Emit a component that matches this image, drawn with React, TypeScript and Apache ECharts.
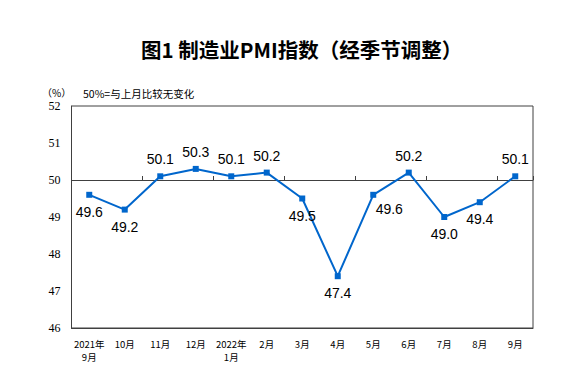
import React, { useEffect, useRef } from "react";
import * as echarts from "echarts";

const categories = [
  "2021年\n9月", "10月", "11月", "12月", "2022年\n1月", "2月", "3月",
  "4月", "5月", "6月", "7月", "8月", "9月",
];
const pmiValues = [49.6, 49.2, 50.1, 50.3, 50.1, 50.2, 49.5, 47.4, 49.6, 50.2, 49.0, 49.4, 50.1];
const yTicks = [46, 47, 48, 49, 50, 51, 52];
const baseline = 50;

const labelSide = ["bottom", "bottom", "top", "top", "top", "top", "bottom", "bottom", "bottomRight", "top", "bottom", "bottom", "top"];

export default function App() {
  const ref = useRef<HTMLDivElement>(null);
  useEffect(() => {
    if (!ref.current) return;
    document.body.style.margin = "0";
    const chart = echarts.init(ref.current, undefined, { renderer: "svg" });
    const yMin = yTicks[0];
    const yMax = yTicks[yTicks.length - 1];
    const gridTop = 106;
    const gridBottom = 48;
    const gridHeight = 376 - gridTop - gridBottom;
    const baseOffset = -gridHeight * (baseline - yMin) / (yMax - yMin);

    const data = pmiValues.map((v, i) => {
      const side = labelSide[i];
      const label: any =
        side === "bottomRight"
          ? { position: "bottom", offset: [16, -3] }
          : { position: side };
      return { value: v, label };
    });

    chart.setOption({
      animation: false,
      backgroundColor: "#ffffff",
      title: {
        text: "图1 制造业PMI指数（经季节调整）",
        left: 136,
        top: 34,
        textStyle: {
          fontFamily: "Noto Sans CJK SC",
          fontSize: 20.5,
          fontWeight: "bold",
          color: "#000",
        },
      },
      graphic: [
        {
          type: "text",
          x: 42,
          y: 92,
          style: {
            text: "（%）",
            fontFamily: "Noto Sans CJK SC",
            fontSize: 10,
            fill: "#000",
            verticalAlign: "middle",
          },
        },
        {
          type: "text",
          x: 83,
          y: 93,
          style: {
            text: "50%=与上月比较无变化",
            fontFamily: "Noto Sans CJK SC",
            fontSize: 10.5,
            fill: "#000",
            verticalAlign: "middle",
          },
        },
      ],
      grid: {
        left: 71.5,
        right: 29,
        top: gridTop,
        bottom: gridBottom,
        show: true,
        borderColor: "#404040",
        borderWidth: 1,
        backgroundColor: "transparent",
      },
      xAxis: [
        {
          type: "category",
          data: categories,
          position: "bottom",
          axisLine: { show: true, lineStyle: { color: "#404040", width: 1 } },
          axisTick: { show: false },
          axisLabel: {
            interval: 0,
            margin: 9,
            fontFamily: "Noto Sans CJK SC",
            fontSize: 9.5,
            lineHeight: 13,
            color: "#000",
          },
          splitLine: { show: false },
        },
        {
          type: "category",
          data: categories,
          position: "bottom",
          offset: baseOffset,
          axisLine: { show: true, lineStyle: { color: "#404040", width: 1 } },
          axisTick: { show: true, inside: true, length: 4, lineStyle: { color: "#404040" } },
          axisLabel: { show: false },
          splitLine: { show: false },
        },
      ],
      yAxis: {
        type: "value",
        min: yMin,
        max: yMax,
        interval: 1,
        axisLine: { show: true, lineStyle: { color: "#404040" } },
        axisTick: { show: false },
        splitLine: { show: false },
        axisLabel: {
          margin: 11,
          fontFamily: "Liberation Serif",
          fontSize: 12,
          color: "#000",
        },
      },
      series: [
        {
          type: "line",
          xAxisIndex: 0,
          data,
          symbol: "rect",
          symbolSize: 6,
          lineStyle: { color: "#0066cc", width: 2 },
          itemStyle: { color: "#0066cc" },
          label: {
            show: true,
            distance: 7,
            fontFamily: "Liberation Sans",
            fontSize: 14,
            color: "#000",
            formatter: (p: any) => Number(p.value).toFixed(1),
          },
        },
      ],
    });
    return () => chart.dispose();
  }, []);
  return <div ref={ref} style={{ width: 562, height: 376 }} />;
}
